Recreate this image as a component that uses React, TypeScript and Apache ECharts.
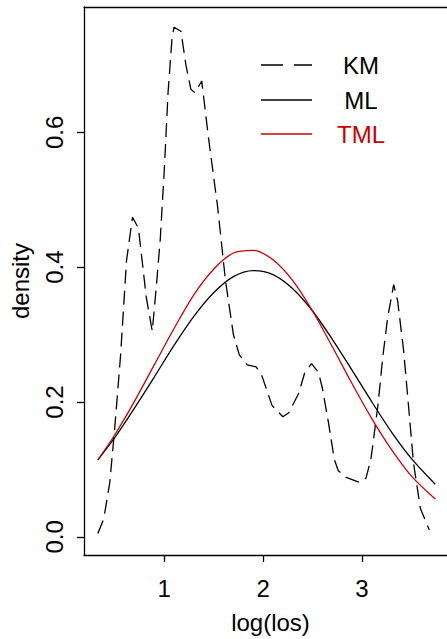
import React, { useEffect, useRef } from "react";
import * as echarts from "echarts";

// Fitted densities (ML and TML) read at these log(los) positions
const fitX = [0.33, 0.5, 0.7, 0.9, 1.1, 1.3, 1.5, 1.7, 1.9, 2.1, 2.3, 2.5, 2.7, 2.9, 3.1, 3.3, 3.5, 3.74];
const mlDensity = [0.114, 0.147, 0.191, 0.237, 0.284, 0.327, 0.362, 0.386, 0.395, 0.389, 0.368, 0.335, 0.293, 0.247, 0.2, 0.155, 0.116, 0.078];
const tmlDensity = [0.114, 0.151, 0.201, 0.255, 0.309, 0.359, 0.397, 0.421, 0.425, 0.411, 0.38, 0.335, 0.282, 0.227, 0.175, 0.129, 0.09, 0.056];

// Kaplan-Meier based density estimate
const kmX = [0.33, 0.39, 0.45, 0.5, 0.56, 0.62, 0.68, 0.74, 0.82, 0.88, 0.92, 0.96, 1.0, 1.04, 1.08, 1.1, 1.17, 1.22, 1.27, 1.31, 1.38, 1.45, 1.54, 1.62, 1.7, 1.76, 1.84, 1.93, 1.99, 2.09, 2.2, 2.26, 2.36, 2.42, 2.49, 2.56, 2.6, 2.66, 2.72, 2.76, 2.84, 2.97, 3.04, 3.09, 3.16, 3.21, 3.26, 3.32, 3.36, 3.42, 3.47, 3.52, 3.59, 3.68];
const kmY = [0.005, 0.027, 0.08, 0.16, 0.27, 0.41, 0.474, 0.458, 0.355, 0.305, 0.37, 0.44, 0.54, 0.66, 0.74, 0.756, 0.75, 0.7, 0.664, 0.659, 0.676, 0.59, 0.49, 0.38, 0.3, 0.27, 0.255, 0.252, 0.238, 0.195, 0.178, 0.184, 0.213, 0.243, 0.257, 0.244, 0.22, 0.17, 0.115, 0.098, 0.088, 0.081, 0.087, 0.115, 0.194, 0.267, 0.326, 0.374, 0.35, 0.277, 0.194, 0.11, 0.042, 0.01];

const xTicks = [1, 2, 3];
const yTicks = [0, 0.2, 0.4, 0.6];
const legendLabels = ["KM", "ML", "TML"];

const FONT = "'Liberation Sans', Arial, Helvetica, sans-serif";
const RED = "#CD0000";

export default function App() {
  const ref = useRef<HTMLDivElement>(null);
  useEffect(() => {
    if (!ref.current) return;
    const chart = echarts.init(ref.current, null, { renderer: "svg" });
    const pair = (xs: number[], ys: number[]) => xs.map((x, i) => [x, ys[i]]);
    const legendColors = ["#000", "#000", RED];
    const legendDash: any[] = [[22, 11], null, null];
    const legendY = [65, 100, 134];
    const graphics: any[] = [];
    legendLabels.forEach((lab, i) => {
      graphics.push({
        type: "line",
        shape: { x1: 261, y1: legendY[i], x2: 312, y2: legendY[i] },
        style: { stroke: legendColors[i], lineWidth: 1.3, lineDash: legendDash[i] || undefined },
      });
      graphics.push({
        type: "text",
        x: 361,
        y: legendY[i],
        style: { text: lab, fill: legendColors[i], font: `24px ${FONT}`, textAlign: "center", textVerticalAlign: "middle" },
      });
    });
    const axisLineStyle = { color: "#000", width: 1.3 };
    chart.setOption({
      animation: false,
      grid: { left: 80, top: 7, right: 0, bottom: 79 },
      xAxis: [
        {
          type: "value",
          position: "bottom",
          min: 0.19,
          max: 3.96,
          name: "log(los)",
          nameLocation: "middle",
          nameGap: 55,
          nameTextStyle: { fontFamily: FONT, fontSize: 24, color: "#000" },
          axisLine: { show: true, onZero: false, lineStyle: axisLineStyle },
          axisTick: { show: true, inside: false, length: 7, lineStyle: axisLineStyle, customValues: xTicks },
          axisLabel: { fontFamily: FONT, fontSize: 24, color: "#000", margin: 21, customValues: xTicks, formatter: (v: number) => String(v) },
          splitLine: { show: false },
        },
        {
          type: "value",
          position: "top",
          min: 0.19,
          max: 3.96,
          axisLine: { show: true, onZero: false, lineStyle: axisLineStyle },
          axisTick: { show: false },
          axisLabel: { show: false },
          splitLine: { show: false },
        },
      ],
      yAxis: {
        type: "value",
        min: -0.027,
        max: 0.786,
        name: "density",
        nameLocation: "middle",
        nameGap: 52,
        nameRotate: 90,
        nameTextStyle: { fontFamily: FONT, fontSize: 24, color: "#000" },
        axisLine: { show: true, onZero: false, lineStyle: axisLineStyle },
        axisTick: { show: true, inside: false, length: 7, lineStyle: axisLineStyle, customValues: yTicks },
        axisLabel: { fontFamily: FONT, fontSize: 24, color: "#000", rotate: 90, margin: 18, customValues: yTicks, formatter: (v: number) => v.toFixed(1) },
        splitLine: { show: false },
      },
      graphic: graphics,
      series: [
        {
          type: "line",
          name: "KM",
          data: pair(kmX, kmY),
          showSymbol: false,
          lineStyle: { color: "#000", width: 1.3, type: [14, 7] },
        },
        {
          type: "line",
          name: "ML",
          data: pair(fitX, mlDensity),
          showSymbol: false,
          smooth: 0.3,
          lineStyle: { color: "#000", width: 1.3 },
        },
        {
          type: "line",
          name: "TML",
          data: pair(fitX, tmlDensity),
          showSymbol: false,
          smooth: 0.3,
          lineStyle: { color: RED, width: 1.3 },
        },
      ],
    });
    return () => chart.dispose();
  }, []);
  return (
    <div style={{ position: "fixed", left: 0, top: 0, width: 447, height: 639, overflow: "hidden", background: "#fff" }}>
      <div ref={ref} style={{ position: "absolute", left: 0, top: 0, width: 457, height: 639 }} />
    </div>
  );
}
